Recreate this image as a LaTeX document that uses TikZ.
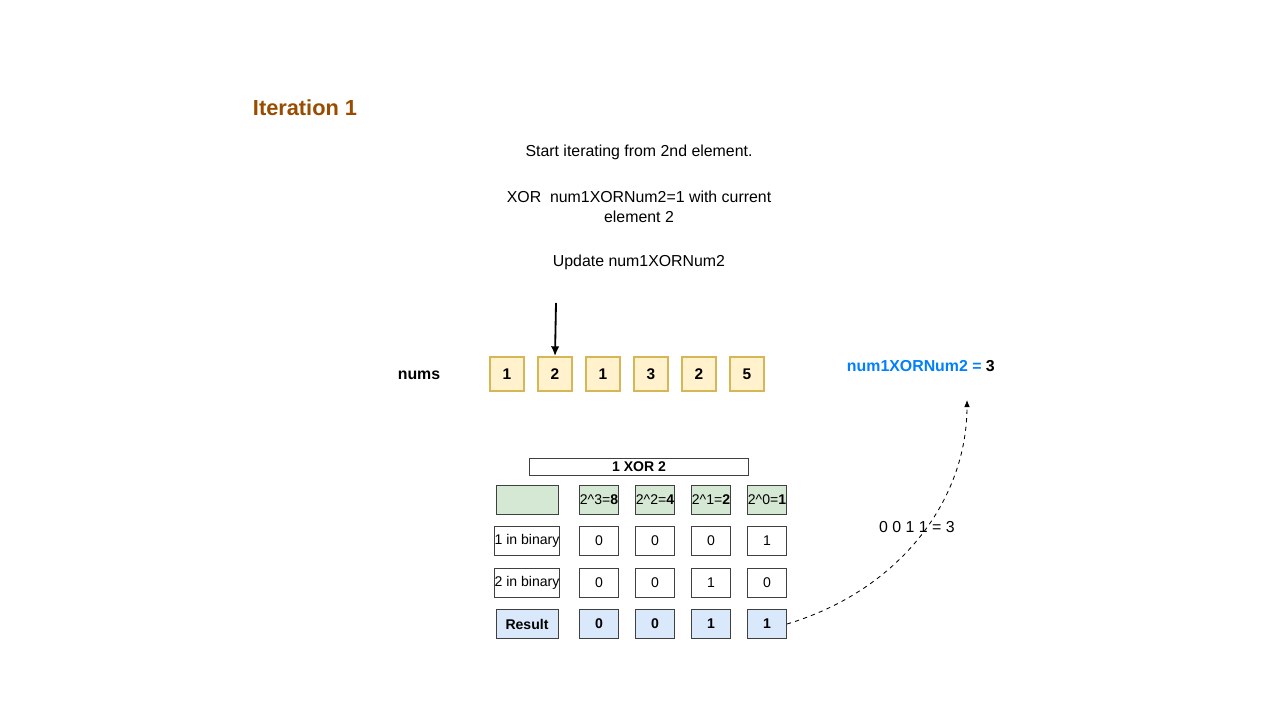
\documentclass[tikz,border=0pt]{standalone}
\usepackage{fontspec}
\setmainfont{Liberation Sans}
\usetikzlibrary{arrows.meta}
\definecolor{cellfill}{HTML}{FFF2CC}
\definecolor{cellline}{HTML}{D6B656}
\definecolor{hdrfill}{HTML}{D5E8D4}
\definecolor{resfill}{HTML}{DAE8FC}
\definecolor{titlebrown}{HTML}{994C00}
\definecolor{varblue}{HTML}{007FFF}
\tikzset{
  cell/.style={draw=cellline, fill=cellfill, line width=1.4pt, minimum width=24, minimum height=24, inner sep=0pt, font=\bfseries\fontsize{11}{13}\selectfont},
  tcell/.style={draw=black!75, line width=0.5pt, minimum height=20.5, inner sep=0pt, font=\fontsize{10}{12}\selectfont},
  txt/.style={font=\fontsize{11.3}{14}\selectfont, align=center}
}
\begin{document}
\begin{tikzpicture}[x=0.05cm, y=-0.05cm]
    \useasboundingbox (0,0) rectangle (640,360);
    % title and description
    \node[font=\bfseries\fontsize{15.5}{18}\selectfont, text=titlebrown, anchor=west] (title) at (124,54) {Iteration 1};
    \node[txt] (step1) at (319.5,76) {Start iterating from 2nd element.};
    \node[txt] (step2) at (319.5,103.5) {XOR\ \ num1XORNum2=1 with current\\element 2};
    \node[txt] (step3) at (319.5,131) {Update num1XORNum2};
    % nums array
    \node[font=\bfseries\fontsize{11.3}{14}\selectfont] (numslbl) at (209.5,187.5) {nums};
    \foreach \v [count=\i] in {1,2,1,3,2,5}
        \node[cell] (c\i) at (241.5+24*\i-12,187) {\v};
    \coordinate (ptr) at (278,151.5);
    \draw[-{Latex[length=7,width=6]}, line width=1.3pt] (ptr) -- (c2.north);
    % result label
    \node[font=\bfseries\fontsize{11.3}{14}\selectfont, anchor=west] (res) at (421,183) {\textcolor{varblue}{num1XORNum2 =} 3};
    % table
    \node[tcell, minimum width=156, minimum height=12, font=\bfseries\fontsize{10}{12}\selectfont] (thead) at (319.5,233.5) {1 XOR 2};
    \node[tcell, fill=hdrfill, minimum width=44] (h0) at (263.5,249.75) {};
    \foreach \t [count=\i] in {{2\^{}3=\textbf{8}},{2\^{}2=\textbf{4}},{2\^{}1=\textbf{2}},{2\^{}0=\textbf{1}}}
        \node[tcell, fill=hdrfill, minimum width=28] (h\i) at (271.5+28*\i,249.75) {\t};
    \node[tcell, minimum width=44] (r1) at (263.5,270.5) {1 in binary};
    \foreach \v [count=\i] in {0,0,0,1}
        \node[tcell, minimum width=28] (a\i) at (271.5+28*\i,270.5) {\v};
    \node[tcell, minimum width=44] (r2) at (263.5,291.25) {2 in binary};
    \foreach \v [count=\i] in {0,0,1,0}
        \node[tcell, minimum width=28] (b\i) at (271.5+28*\i,291.25) {\v};
    \node[tcell, fill=resfill, minimum width=44, font=\bfseries\fontsize{10}{12}\selectfont] (r3) at (263.5,312) {Result};
    \foreach \v [count=\i] in {0,0,1,1}
        \node[tcell, fill=resfill, minimum width=28, font=\bfseries\fontsize{10}{12}\selectfont] (s\i) at (271.5+28*\i,312) {\v};
    % dashed curve
    \coordinate (tip) at (483.5,200);
    \draw[-{Latex[length=5,width=4]}, dashed, line width=0.6pt] (s4.east) .. controls (450,295) and (483.5,250) .. (tip);
    \node[txt] (bits) at (458.5,263.5) {0 0 1 1 = 3};
\end{tikzpicture}
\end{document}
